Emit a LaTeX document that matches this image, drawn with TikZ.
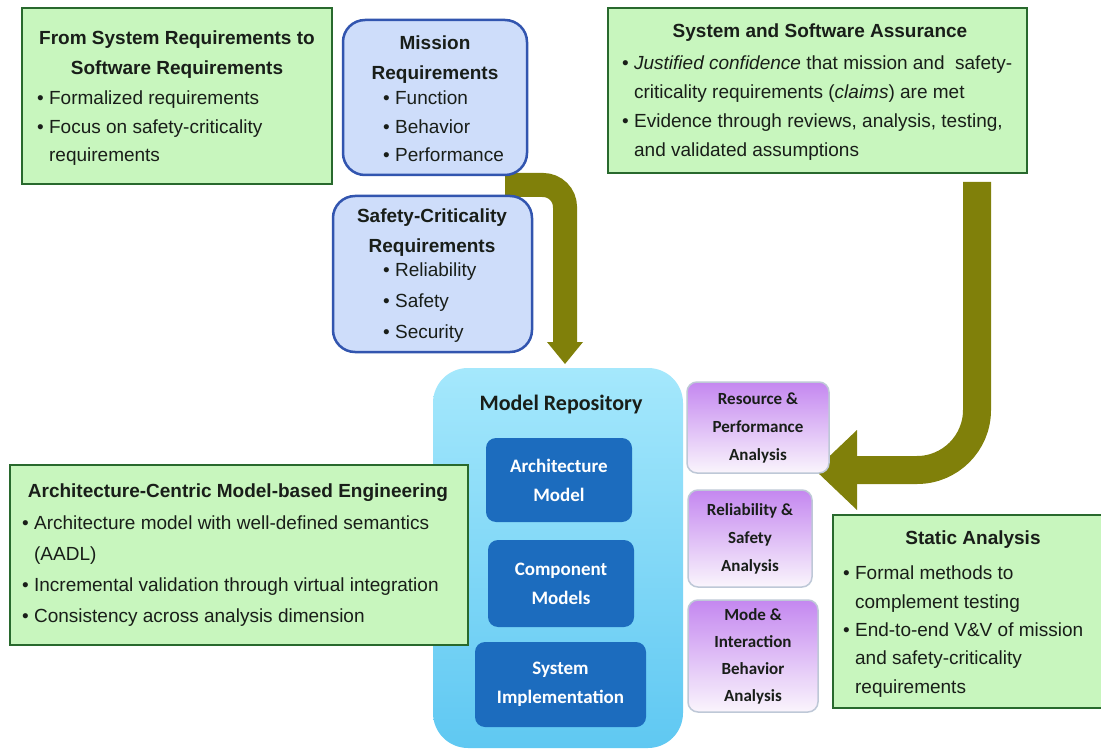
\documentclass[tikz,border=0pt]{standalone}
\usepackage{fontspec}
\setmainfont{Liberation Sans}
\newfontfamily\calfont{Carlito}
\usetikzlibrary{arrows.meta}
\definecolor{gfill}{RGB}{200,246,190}
\definecolor{gline}{RGB}{40,105,45}
\definecolor{bfill}{RGB}{206,221,250}
\definecolor{bline}{RGB}{50,85,175}
\definecolor{repotop}{RGB}{165,232,252}
\definecolor{repobot}{RGB}{95,200,242}
\definecolor{innerc}{RGB}{28,108,190}
\definecolor{ptop}{RGB}{196,135,240}
\definecolor{pbot}{RGB}{250,245,252}
\definecolor{pline}{RGB}{190,200,215}
\definecolor{olivec}{RGB}{128,128,10}
\definecolor{txt}{RGB}{25,30,25}
\tikzset{
  greenbox/.style={draw=gline, line width=2.5pt, fill=gfill, inner sep=0pt},
  bluebox/.style={draw=bline, line width=2.5pt, fill=bfill, rounded corners=22pt, inner sep=0pt},
  repobox/.style={draw=none, top color=repotop, bottom color=repobot, rounded corners=35pt, inner sep=0pt},
  innerbox/.style={fill=innerc, rounded corners=10pt, inner sep=0pt, text=white, align=center,
    font=\calfont\bfseries\fontsize{19}{29}\selectfont},
  purplebox/.style={draw=pline, line width=1.5pt, top color=ptop, bottom color=pbot, rounded corners=10pt,
    inner sep=0pt, align=center, text=txt, font=\calfont\bfseries\fontsize{17}{28}\selectfont},
  gtitle/.style={anchor=north, align=center, inner sep=0pt, text=txt, font=\bfseries\fontsize{19}{30}\selectfont},
  gbody/.style={anchor=north west, align=left, inner sep=0pt, text=txt, font=\fontsize{19}{28.5}\selectfont},
  bigarrow/.style={draw=olivec, line cap=butt},
}
\newcommand{\ind}{\phantom{•\ }}
\begin{document}
\begin{tikzpicture}[x=1pt,y=-1pt]
\useasboundingbox[fill=white] (0,0) rectangle (1101,754);

% arrows (behind boxes)
\coordinate (a1s) at (505,185);
\coordinate (a1e) at (565,364);
\draw[bigarrow, line width=24pt, rounded corners=22pt,
  -{Triangle[width=36pt,length=22pt,line width=0pt]}] (a1s) -| (a1e);
\coordinate (a2s) at (977,182);
\coordinate (a2e) at (815,470);
\draw[bigarrow, line width=28pt, rounded corners=60pt,
  -{Triangle[width=80pt,length=42pt,line width=0pt]}] (a2s) |- (a2e);

% top-left green box
\node[greenbox, minimum width=310pt, minimum height=176pt] (req) at (177,96) {};
\node[gtitle] (reqT) at (177,31) {From System Requirements to\\Software Requirements};
\node[gbody] (reqB) at (37,91) {• Formalized requirements\\• Focus on safety-criticality\\\ind requirements};

% mission requirements
\node[bluebox, minimum width=184pt, minimum height=155pt] (mission) at (435,97.5) {};
\node[gtitle] (missionT) at (435,36) {Mission\\Requirements};
\node[gbody] (missionB) at (383,91) {• Function\\• Behavior\\• Performance};

% safety-criticality requirements
\node[bluebox, minimum width=199pt, minimum height=156pt] (safety) at (432.5,274) {};
\node[gtitle] (safetyT) at (432,209) {Safety-Criticality\\Requirements};
\node[gbody, font=\fontsize{19}{31}\selectfont] (safetyB) at (383,263) {• Reliability\\• Safety\\• Security};

% system and software assurance
\node[greenbox, minimum width=419pt, minimum height=165pt] (assure) at (817.5,90.5) {};
\node[gtitle] (assureT) at (820,24) {System and Software Assurance};
\node[gbody, font=\fontsize{19}{29}\selectfont] (assureB) at (622,56) {• \textit{Justified confidence} that mission and\ \ safety-\\\ind criticality requirements (\textit{claims}) are met\\• Evidence through reviews, analysis, testing,\\\ind and validated assumptions};

% model repository
\node[repobox, minimum width=250pt, minimum height=380pt] (repo) at (558,558) {};
\node[inner sep=0pt, text=txt, font=\calfont\bfseries\fontsize{22}{26}\selectfont] (repoT) at (561,405) {Model Repository};
\node[innerbox, minimum width=146pt, minimum height=84pt] (arch) at (559,480) {Architecture\\Model};
\node[innerbox, minimum width=146pt, minimum height=87pt] (comp) at (561,583.5) {Component\\Models};
\node[innerbox, minimum width=171pt, minimum height=85pt] (impl) at (560.5,684.5) {System\\Implementation};

% analysis boxes
\node[purplebox, minimum width=142pt, minimum height=91pt] (res) at (758,427.5) {Resource \&\\Performance\\Analysis};
\node[purplebox, minimum width=124pt, minimum height=97pt] (rel) at (750,538.5) {Reliability \&\\Safety\\Analysis};
\node[purplebox, minimum width=130pt, minimum height=112pt, font=\calfont\bfseries\fontsize{17}{27}\selectfont] (mode) at (753,656) {Mode \&\\Interaction\\Behavior\\Analysis};

% ACME box
\node[greenbox, minimum width=458pt, minimum height=180pt] (acme) at (239,555) {};
\node[gtitle] (acmeT) at (238,484) {Architecture-Centric Model-based Engineering};
\node[gbody, font=\fontsize{19}{30.7}\selectfont] (acmeB) at (22,516) {• Architecture model with well-defined semantics\\\ind (AADL)\\• Incremental validation through virtual integration\\• Consistency across analysis dimension};

% static analysis
\node[greenbox, minimum width=277pt, minimum height=193pt] (stat) at (971.5,611.5) {};
\node[gtitle] (statT) at (973,531) {Static Analysis};
\node[gbody, font=\fontsize{19}{28.3}\selectfont] (statB) at (843,566) {• Formal methods to\\\ind complement testing\\• End-to-end V\&V of mission\\\ind and safety-criticality\\\ind requirements};
\end{tikzpicture}
\end{document}
